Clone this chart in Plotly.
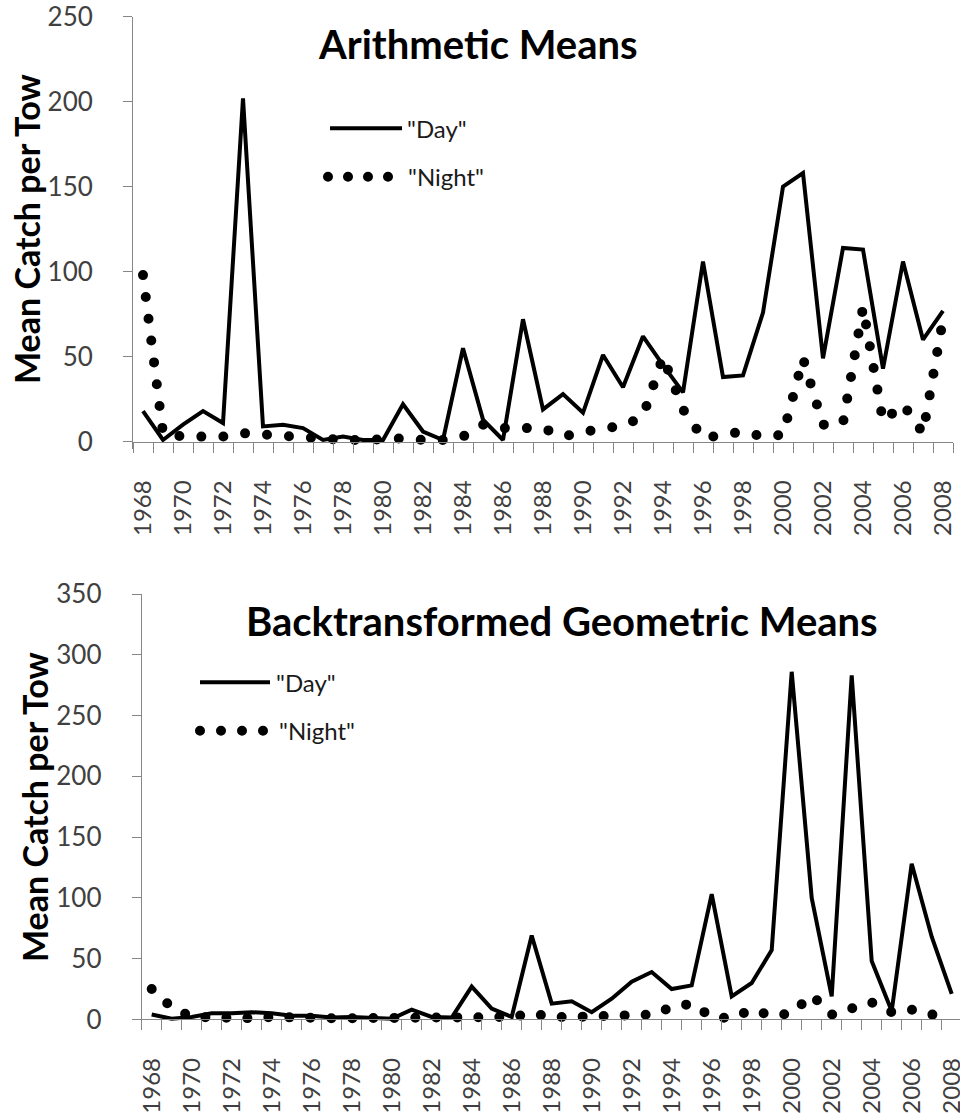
import plotly.graph_objects as go

# Survey years (one category per year)
years = list(range(1968, 2009))
label_years = years[::2]

# Arithmetic mean catch per tow
arith_day = [18, 1, 10, 18, 11, 202, 9, 10, 8, 1, 3, 1, 1, 22, 6, 1, 55, 13, 1, 72,
             19, 28, 17, 51, 32, 62, 45, 29, 106, 38, 39, 76, 150, 158, 49, 114, 113, 43, 106, 60, 77]
arith_night = [98, 5, 3, 3, 3, 5, 4, 3, 3, 1, 1, 1, 2, 2, 1, 1, 3, 10, 8, 8,
               8, 3, 6, 8, 9, 15, 50, 19, 2, 4, 6, 3, 4, 49, 10, 11, 79, 12, 22, 5, 72]

# Backtransformed geometric mean catch per tow
geo_day = [4, 0.5, 2, 5, 5, 6, 5, 3, 3, 1.5, 2, 1, 0.5, 8, 2, 1.5, 27, 9, 2, 69,
           13, 15, 6, 17, 31, 39, 25, 28, 103, 19, 30, 57, 286, 100, 19, 283, 48, 7, 128, 68, 21]
geo_night = [25, 10, 2, 1, 1, 1, 2, 1, 1, 1, 1, 1, 1, 1, 1, 1, 2, 2, 2, 5,
             2, 2, 3, 4, 4, 4, 10, 13, 2, 1, 8, 3, 5, 20, 4, 10, 14, 6, 8, 4, 3]

W, H = 960, 1118
FONT = "Lato"
AXIS_GREY = "#868686"
TICK_TXT = "#404040"


def px_x(p):
    return p / W


def px_y(p):
    return 1 - p / H


fig = go.Figure()

fig.add_trace(go.Scatter(x=years, y=arith_day, mode="lines", name='"Day"',
                         line=dict(color="black", width=4), xaxis="x", yaxis="y"))
fig.add_trace(go.Scatter(x=years, y=arith_night, mode="lines", name='"Night"',
                         line=dict(color="black", width=10, dash="0px,22px"), xaxis="x", yaxis="y"))
fig.add_trace(go.Scatter(x=years, y=geo_day, mode="lines", name='"Day"',
                         line=dict(color="black", width=4), xaxis="x2", yaxis="y2"))
fig.add_trace(go.Scatter(x=years, y=geo_night, mode="lines", name='"Night"',
                         line=dict(color="black", width=10, dash="0px,21px"), xaxis="x2", yaxis="y2"))

boundaries = [y - 0.5 for y in years] + [years[-1] + 0.5]


def x_axis(domain, rng, pos):
    return dict(
        domain=domain, range=rng, anchor="free", position=pos, automargin=False,
        showline=True, linecolor=AXIS_GREY, linewidth=1,
        showgrid=False, zeroline=False,
        tickmode="array", tickvals=label_years, ticktext=[str(v) for v in label_years],
        ticks="", tickangle=-90, ticklabelstandoff=28, ticklabeloverflow="allow",
        tickfont=dict(family=FONT, size=24, color=TICK_TXT),
        minor=dict(tickmode="array", tickvals=boundaries, ticks="outside",
                   ticklen=10, tickcolor=AXIS_GREY, tickwidth=1, showgrid=False),
    )


def y_axis(domain, rng, dtick, anchor):
    return dict(
        domain=domain, range=rng, anchor=anchor, automargin=False,
        showline=True, linecolor=AXIS_GREY, linewidth=1,
        showgrid=False, zeroline=False,
        tickmode="linear", tick0=0, dtick=dtick,
        ticks="outside", ticklen=9, tickcolor=AXIS_GREY, tickwidth=1,
        ticklabelstandoff=25, ticklabeloverflow="allow",
        tickfont=dict(family=FONT, size=26, color=TICK_TXT),
    )


fig.update_layout(
    template="none",
    width=W, height=H, autosize=False,
    margin=dict(l=0, r=0, t=0, b=0, pad=0),
    paper_bgcolor="white", plot_bgcolor="white",
    showlegend=False,
    xaxis=x_axis([px_x(133), px_x(953)], [1967.5, 2008.5], px_y(441.7)),
    yaxis=y_axis([px_y(448.5), px_y(16.7)], [-4, 250], 50, "x"),
    xaxis2=x_axis([px_x(141.7), 1.0], [1967.5, 2008.415], px_y(1019.4)),
    yaxis2=y_axis([px_y(1025.5), px_y(594)], [-5, 350], 50, "x2"),
)

# Panel titles and axis titles
texts = [
    ("Arithmetic Means", 478, 44, 40, 0),
    ("Backtransformed Geometric Means", 562, 621, 40, 0),
    ("Mean Catch per Tow", 27, 229, 34, -90),
    ("Mean Catch per Tow", 34, 807, 34, -90),
]
for txt, x, y, size, ang in texts:
    fig.add_annotation(
        text=f"<b>{txt}</b>", xref="paper", yref="paper",
        x=px_x(x), y=px_y(y), xanchor="center", yanchor="middle",
        showarrow=False, textangle=ang,
        font=dict(family=FONT, size=size, color="black"),
    )

# Legend keys drawn inside each panel
legend_rows = [
    # (x0, x1, y, dash, label, text_x)
    (330, 402, 128.3, None, '"Day"', 405),
    (328, 390, 176.7, "0px,20px", '"Night"', 406),
    (200, 270, 682.3, None, '"Day"', 274),
    (200, 264, 730.7, "0px,21px", '"Night"', 277),
]
for x0, x1, y, dash, label, tx in legend_rows:
    line = dict(color="black", width=4 if dash is None else 10)
    if dash:
        line["dash"] = dash
    fig.add_shape(type="line", xref="paper", yref="paper",
                  x0=px_x(x0), x1=px_x(x1), y0=px_y(y), y1=px_y(y), line=line)
    fig.add_annotation(text=label, xref="paper", yref="paper",
                       x=px_x(tx), y=px_y(y), xanchor="left", yanchor="middle",
                       showarrow=False, font=dict(family=FONT, size=24, color="#1a1a1a"))

# Round line caps so the dotted dash pattern renders as round dots
post = """
var gd = document.getElementById('{plot_id}');
gd.querySelectorAll('path').forEach(function(p){
  var d = p.style.strokeDasharray;
  if (d && d !== 'none') { p.style.strokeLinecap = 'round'; }
});
"""

fig.write_html("out.html", post_script=post)
